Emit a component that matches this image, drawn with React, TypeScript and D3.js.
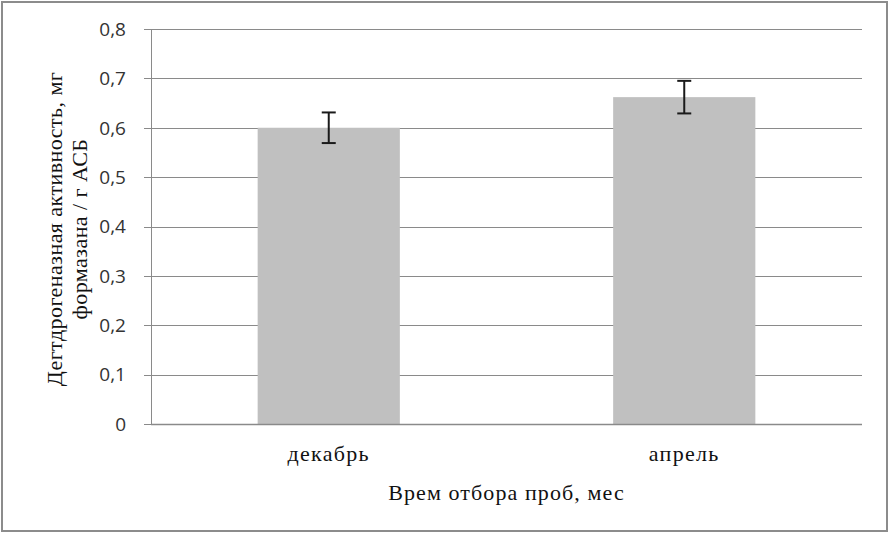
import React from "react";
import * as d3 from "d3";

const categories = ["декабрь", "апрель"];
const values = [0.6, 0.662];
const errors = [0.031, 0.033];
const yTicks = [0, 0.1, 0.2, 0.3, 0.4, 0.5, 0.6, 0.7, 0.8];
const yTitleLines = ["Дегтдрогеназная активность, мг", "формазана / г АСБ"];
const xTitle = "Врем отбора проб, мес";

export default function App() {
  const W = 890, H = 534;
  const left = 151, right = 862, top = 29, bottom = 424;
  const y = d3.scaleLinear().domain([0, 0.8]).range([bottom, top]);
  const x = d3.scaleBand<string>().domain(categories).range([left, right]).paddingInner(0.6).paddingOuter(0.3);
  const fmt = (v: number) => (v === 0 ? "0" : d3.format(".1f")(v).replace(".", ","));
  const serifStyle = { fontFamily: '"Liberation Serif", "Times New Roman", serif' };
  const sansStyle = { fontFamily: '"Open Sans", "Noto Sans", sans-serif' };
  const midY = 229;
  return (
    <svg width={W} height={H} style={{ position: "absolute", left: 0, top: 0, background: "#fff" }}>
      <rect x={2} y={2} width={885} height={529} fill="#fff" stroke="#8c8c8c" strokeWidth={2} />
      {yTicks.map((t) => (
        <g key={t}>
          {t > 0 && <line x1={left} x2={right} y1={Math.round(y(t)) + 0.5} y2={Math.round(y(t)) + 0.5} stroke="#8a8a8a" strokeWidth={1} />}
          <line x1={left - 7} x2={left} y1={Math.round(y(t)) + 0.5} y2={Math.round(y(t)) + 0.5} stroke="#8a8a8a" strokeWidth={1} />
          <text x={126} y={y(t)} dy="0.36em" textAnchor="end" style={sansStyle} fontSize={19} fill="#333">
            {fmt(t)}
          </text>
        </g>
      ))}
      {categories.map((c, i) => (
        <g key={c}>
          <rect x={x(c)} y={y(values[i])} width={x.bandwidth()} height={bottom - y(values[i])} fill="#c0c0c0" />
          <line x1={x(c)! + x.bandwidth() / 2} x2={x(c)! + x.bandwidth() / 2} y1={y(values[i] + errors[i])} y2={y(values[i] - errors[i])} stroke="#1a1a1a" strokeWidth={2} />
          <line x1={x(c)! + x.bandwidth() / 2 - 7} x2={x(c)! + x.bandwidth() / 2 + 7} y1={y(values[i] + errors[i])} y2={y(values[i] + errors[i])} stroke="#1a1a1a" strokeWidth={2} />
          <line x1={x(c)! + x.bandwidth() / 2 - 7} x2={x(c)! + x.bandwidth() / 2 + 7} y1={y(values[i] - errors[i])} y2={y(values[i] - errors[i])} stroke="#1a1a1a" strokeWidth={2} />
          <text x={x(c)! + x.bandwidth() / 2} y={461} textAnchor="middle" style={serifStyle} fontSize={22} letterSpacing={1.3} fill="#111">
            {c}
          </text>
        </g>
      ))}
      <line x1={left + 0.5} x2={left + 0.5} y1={top} y2={bottom} stroke="#8a8a8a" strokeWidth={1} />
      <line x1={left} x2={right} y1={bottom + 0.5} y2={bottom + 0.5} stroke="#8a8a8a" strokeWidth={1.5} />
      <text x={(left + right) / 2} y={500} textAnchor="middle" style={serifStyle} fontSize={22} letterSpacing={1.1} fill="#111">
        {xTitle}
      </text>
      <g transform={`translate(0, ${midY}) rotate(-90)`}>
        <text x={0} y={62} textAnchor="middle" style={serifStyle} fontSize={22} letterSpacing={0.45} fill="#111">
          {yTitleLines[0]}
        </text>
        <text x={0} y={87} textAnchor="middle" style={serifStyle} fontSize={22} letterSpacing={0.45} fill="#111">
          {yTitleLines[1]}
        </text>
      </g>
    </svg>
  );
}
